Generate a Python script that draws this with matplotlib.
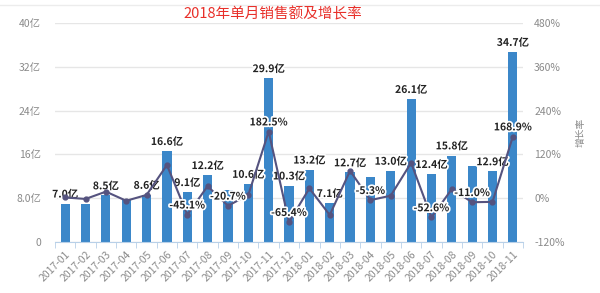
import numpy as np
import matplotlib
matplotlib.use('Agg')
import matplotlib.pyplot as plt
import matplotlib.patheffects as pe

plt.rcParams['font.family'] = ['Noto Sans CJK SC', 'DejaVu Sans']
plt.rcParams['axes.unicode_minus'] = False

months = ['2017-01', '2017-02', '2017-03', '2017-04', '2017-05', '2017-06',
          '2017-07', '2017-08', '2017-09', '2017-10', '2017-11', '2017-12',
          '2018-01', '2018-02', '2018-03', '2018-04', '2018-05', '2018-06',
          '2018-07', '2018-08', '2018-09', '2018-10', '2018-11']
sales = [7.0, 6.9, 8.5, 7.8, 8.6, 16.6, 9.1, 12.2, 9.5, 10.6, 29.9, 10.3,
         13.2, 7.1, 12.7, 11.8, 13.0, 26.1, 12.4, 15.8, 13.9, 12.9, 34.7]
growth = [2, -2, 18, -7, 9, 91, -45.1, 33, -20.7, 9, 182.5, -65.4,
          27, -46, 75, -5.3, 7, 97, -52.6, 25, -11.0, -10, 168.9]
show_sales = [0, 2, 4, 5, 6, 7, 9, 10, 11, 12, 13, 14, 16, 17, 18, 19, 21, 22]
show_growth = [6, 8, 10, 11, 15, 18, 20, 22]

bar_color = '#3b87c9'
line_color = '#55537f'
grid_color = '#e6e6e6'
tick_color = '#8a8a8a'

fig = plt.figure(figsize=(6, 2.93), dpi=100)
ax = fig.add_axes([0.0917, 0.174, 0.780, 0.7475])
ax2 = ax.twinx()

x = np.arange(len(months))
ax.bar(x, sales, width=0.45, color=bar_color, zorder=2)
ax.set_xlim(-0.5, len(months) - 0.5)
ax.set_ylim(0, 40)
ax.set_yticks([0, 8, 16, 24, 32, 40])
ax.set_yticklabels(['0', '8.0亿', '16亿', '24亿', '32亿', '40亿'])
ax.yaxis.grid(True, color=grid_color, linewidth=1, zorder=0)
ax.set_axisbelow(True)
ax.set_xticks(x)
ax.set_xticklabels(months, rotation=45, ha='right', rotation_mode='anchor')
ax.set_xticks(np.arange(-0.5, len(months)), minor=True)
ax.tick_params(axis='x', which='major', length=0, labelsize=7.5, colors=tick_color, pad=5)
ax.tick_params(axis='x', which='minor', length=4, color='#b8d0e8')
ax.tick_params(axis='y', length=0, labelsize=7.5, colors=tick_color, pad=10)
for s in ['top', 'right', 'left']:
    ax.spines[s].set_visible(False)
ax.spines['bottom'].set_color('#b8d0e8')

ax2.plot(x, growth, color=line_color, linewidth=1.5, marker='o', markersize=3.5, zorder=3)
ax2.set_ylim(-120, 480)
ax2.set_yticks([-120, 0, 120, 240, 360, 480])
ax2.set_yticklabels(['-120%', '0%', '120%', '240%', '360%', '480%'])
ax2.tick_params(axis='y', length=0, labelsize=7.5, colors=tick_color, pad=8)
for s in ax2.spines.values():
    s.set_visible(False)
ax2.set_ylabel('增长率', fontsize=7, color=tick_color, rotation=90, labelpad=8)

halo = [pe.withStroke(linewidth=2.5, foreground='white')]
for i in show_sales:
    ax.annotate('%.1f亿' % sales[i], (x[i], sales[i]), xytext=(0, 3),
                textcoords='offset points', ha='center', va='bottom',
                fontsize=7.5, fontweight='bold', color='#222222',
                path_effects=halo, zorder=5)
for i in show_growth:
    ax2.annotate('%.1f%%' % growth[i], (x[i], growth[i]), xytext=(0, 3),
                 textcoords='offset points', ha='center', va='bottom',
                 fontsize=7.5, fontweight='bold', color='#222222',
                 path_effects=halo, zorder=6)

fig.text(0.455, 0.952, '2018年单月销售额及增长率', color='#e8302a', fontsize=10.5,
         ha='center', va='center')
fig.add_artist(plt.Line2D([0.0, 1.0], [0.983, 0.983], color='#ececec', linewidth=1))

fig.savefig('out.png', dpi=100)
